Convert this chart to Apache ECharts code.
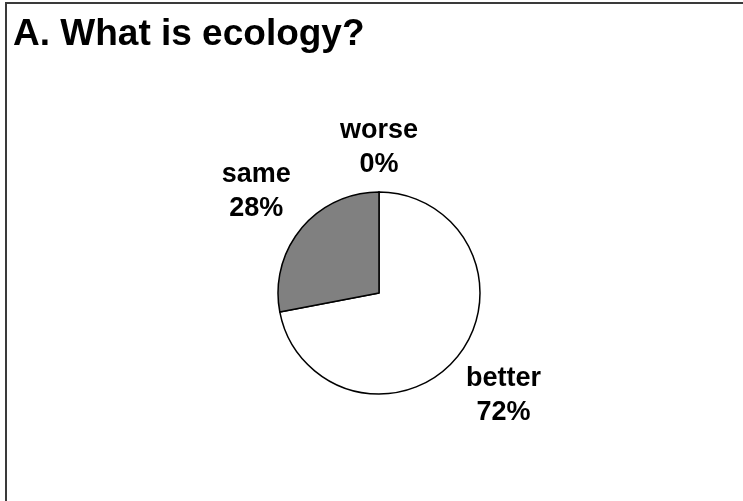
<!DOCTYPE html>
<html>
<head>
<meta charset="utf-8">
<script src="https://cdn.jsdelivr.net/npm/echarts@6/dist/echarts.min.js"></script>
<style>
html,body{margin:0;padding:0;background:#fff;}
#chart{width:743px;height:501px;}
</style>
</head>
<body>
<div id="chart"></div>
<script>
const titleText = 'A. What is ecology?';
const categories = ['worse', 'better', 'same'];
const values = [0, 72, 28];
const sliceColors = ['#ffffff', '#ffffff', '#808080'];

const FONT = "'Liberation Sans', Arial, sans-serif";
const CX = 379, CY = 293, R = 101, GAP = 10;
const total = values.reduce((a, b) => a + b, 0);

const chart = echarts.init(document.getElementById('chart'), null, {renderer: 'canvas'});
chart.setOption({
  backgroundColor: '#ffffff',
  animation: false,
  title: {
    text: titleText,
    left: 13,
    top: 16,
    padding: 0,
    textStyle: {fontFamily: FONT, fontWeight: 'bold', fontSize: 37, color: '#000'}
  },
  graphic: [{
    type: 'rect',
    silent: true,
    shape: {x: 6, y: 3, width: 800, height: 600},
    style: {fill: 'none', stroke: '#3a3a3a', lineWidth: 2}
  }],
  series: [{
    type: 'pie',
    center: [CX, CY],
    radius: [0, R],
    startAngle: 90,
    clockwise: true,
    minAngle: 0,
    avoidLabelOverlap: false,
    data: categories.map((n, i) => ({
      name: n,
      value: values[i],
      itemStyle: {color: sliceColors[i]}
    })),
    itemStyle: {borderColor: '#000', borderWidth: 1.5},
    label: {
      show: true,
      position: 'outside',
      formatter: '{b}\n{d}%',
      fontFamily: FONT,
      fontWeight: 'bold',
      fontSize: 27,
      lineHeight: 34,
      color: '#000',
      align: 'center'
    },
    labelLine: {show: false, length: 10, length2: 0},
    emphasis: {disabled: true},
    labelLayout: function (p) {
      const i = p.dataIndex;
      let before = 0;
      for (let k = 0; k < i; k++) before += values[k];
      const mid = (before + values[i] / 2) / total * Math.PI * 2;
      const s = Math.sin(mid), c = -Math.cos(mid);
      const w = p.labelRect.width, h = p.labelRect.height;
      const d = R + GAP + Math.abs(s) * w / 2 + Math.abs(c) * h / 2;
      return {x: CX + d * s, y: CY + d * c, align: 'center', verticalAlign: 'middle'};
    }
  }]
});
</script>
</body>
</html>
